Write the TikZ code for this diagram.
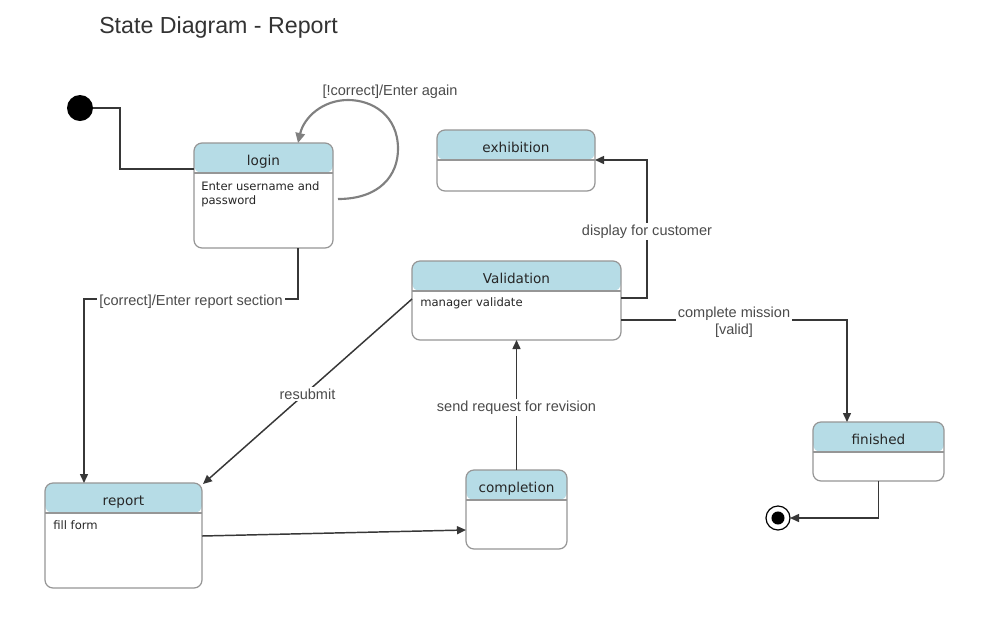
\documentclass[tikz,border=0pt]{standalone}
\usepackage{fontspec}
\setmainfont{Liberation Sans}
\newfontfamily\dvs{DejaVu Sans}
\usetikzlibrary{arrows.meta,calc,fit}
\definecolor{hdr}{RGB}{182,220,230}
\definecolor{bord}{RGB}{150,150,150}
\definecolor{edge}{RGB}{55,55,55}
\definecolor{lbltxt}{RGB}{75,75,75}
\definecolor{loopc}{RGB}{128,128,128}
\begin{document}
\begin{tikzpicture}[x=0.75pt,y=-0.75pt,
  statebox/.style={draw=bord, line width=0.9pt, rounded corners=6pt, fill=white, inner sep=0pt, outer sep=0pt,
    path picture={\fill[hdr] (path picture bounding box.north west) rectangle ([yshift=-22.5pt]path picture bounding box.north east);
      \draw[bord, line width=0.9pt] ([yshift=-22.5pt]path picture bounding box.north west) -- ([yshift=-22.5pt]path picture bounding box.north east);}},
  stitle/.style={font=\dvs\fontsize{10.2}{12}\selectfont, text=black!85, anchor=base, inner sep=0pt},
  sbody/.style={font=\dvs\fontsize{8.7}{10.5}\selectfont, text=black!85, anchor=north west, align=left, inner sep=0pt},
  tr/.style={draw=edge, line width=1.1pt, -{Triangle[length=6.75pt,width=6pt]}},
  plainline/.style={draw=edge, line width=1.1pt},
  lbl/.style={font=\fontsize{10.9}{13}\selectfont, text=lbltxt, fill=white, inner sep=1.5pt, midway, align=center, yshift=-1.8pt},
  initst/.style={circle, fill=black, minimum size=19.5pt, inner sep=0pt, outer sep=0pt},
  finalst/.style={circle, draw=black, line width=0.9pt, fill=white, minimum size=18pt, inner sep=0pt, outer sep=0pt,
    path picture={\fill[black] (path picture bounding box.center) circle (4.9pt);}},
]
\useasboundingbox (0,0) rectangle (1001,637);
\fill[white] (0,0) rectangle (1001,637);

\node[font=\fontsize{17.4}{20}\selectfont, text=black!80, anchor=base west, inner sep=0pt] (ttl) at (99,33) {State Diagram - Report};

% states
\node[statebox, fit={(194,143) (333,248)}] (login) {};
\node[stitle] (loginT) at (263.5,165) {login};
\node[sbody] (loginB) at (201,181) {Enter username and\\password};

\node[statebox, fit={(437,130) (595,191)}] (exh) {};
\node[stitle] (exhT) at (516,152) {exhibition};

\node[statebox, fit={(412,261) (621,340)}] (val) {};
\node[stitle] (valT) at (516.5,283) {Validation};
\node[sbody] (valB) at (420,297) {manager validate};

\node[statebox, fit={(813,422) (944,481)}] (fin) {};
\node[stitle] (finT) at (878.5,444) {finished};

\node[statebox, fit={(45,483) (202,588)}] (rep) {};
\node[stitle] (repT) at (123.5,505) {report};
\node[sbody] (repB) at (53,520) {fill form};

\node[statebox, fit={(466,470) (567,549)}] (comp) {};
\node[stitle] (compT) at (516.5,492) {completion};

\node[initst] (init) at (80,108) {};
\node[finalst] (final) at (778,518) {};

% connectors
\draw[plainline] (init.east) -- (120,108) -- (120,169) -- ($(login.north west)+(0,26)$);

\draw[draw=loopc, line width=1.6pt, -{Triangle[length=7.5pt,width=7pt]}]
  ($(login.north east)+(5,56)$) .. controls (380,199) and (398,175) .. (398,149)
  .. controls (398,115) and (372,100) .. (348,100)
  .. controls (323,100) and (304,117) .. ($(login.north west)+(104,0)$);
\node[font=\fontsize{10.9}{13}\selectfont, text=lbltxt, inner sep=0pt] (loopL) at (390,92) {[!correct]/Enter again};

\draw[tr] ($(login.south west)+(104,0)$) -- (298,299) -- node[lbl] {[correct]/Enter report section} (84,299) -- ($(rep.north west)+(39,0)$);

\draw[tr] ($(val.north west)+(0,38)$) -- node[lbl] {resubmit} ($(rep.north east)+(1,1)$);

\draw[tr] ($(rep.north east)+(0,53)$) -- ($(comp.north west)+(0,60)$);

\draw[tr] (comp.north) -- node[lbl] {send request for revision} (val.south);

\draw[tr] ($(val.north east)+(0,37)$) -- (647,298) -- node[lbl] {display for customer} (647,160) -- ($(exh.north east)+(0,30)$);

\draw[tr] ($(val.north east)+(0,59)$) -- node[lbl] {complete mission\\{}[valid]} (847,320) -- ($(fin.north west)+(34,0)$);

\draw[tr] (fin.south) -- (878.5,518) -- (final.east);
\end{tikzpicture}
\end{document}
